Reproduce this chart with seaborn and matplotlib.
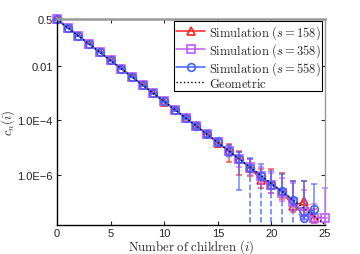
import numpy as np
import matplotlib
matplotlib.use("Agg")
import matplotlib.pyplot as plt
import seaborn as sns

# number of children i = 0..25
children = list(range(26))

geometric = [5.0e-1, 2.5e-1, 1.25e-1, 6.25e-2, 3.13e-2, 1.56e-2, 7.81e-3, 3.91e-3,
             1.95e-3, 9.77e-4, 4.88e-4, 2.44e-4, 1.22e-4, 6.10e-5, 3.05e-5, 1.53e-5,
             7.63e-6, 3.81e-6, 1.91e-6, 9.54e-7, 4.77e-7, 2.38e-7, 1.19e-7, 5.96e-8,
             2.98e-8, 1.49e-8]

# simulation estimates (s = 158, 358, 558)
sim_158 = [5.0e-1, 2.5e-1, 1.25e-1, 6.24e-2, 3.13e-2, 1.56e-2, 7.80e-3, 3.90e-3,
           1.95e-3, 9.75e-4, 4.87e-4, 2.44e-4, 1.22e-4, 6.08e-5, 3.06e-5, 1.52e-5,
           7.5e-6, 3.8e-6, 1.85e-6, 6.6e-7, 4.4e-7, 2.5e-7, 6.9e-8, 1.05e-7, 2.7e-8]
sim_358 = [5.0e-1, 2.5e-1, 1.25e-1, 6.25e-2, 3.12e-2, 1.56e-2, 7.82e-3, 3.91e-3,
           1.95e-3, 9.78e-4, 4.89e-4, 2.44e-4, 1.22e-4, 6.11e-5, 3.04e-5, 1.53e-5,
           7.6e-6, 3.9e-6, 1.9e-6, 8.8e-7, 4.3e-7, 2.2e-7, 1.0e-7, 4.5e-8, 2.7e-8, 2.7e-8]
sim_558 = [5.0e-1, 2.5e-1, 1.25e-1, 6.25e-2, 3.13e-2, 1.56e-2, 7.81e-3, 3.91e-3,
           1.95e-3, 9.76e-4, 4.88e-4, 2.44e-4, 1.22e-4, 6.10e-5, 3.05e-5, 1.53e-5,
           7.6e-6, 3.8e-6, 1.82e-6, 8.9e-7, 4.4e-7, 2.6e-7, 1.15e-7, 2.7e-8, 5.6e-8]

# error bars, in decades above / below the estimate (nan = reaches zero)
nan = np.nan
hi_158 = [.01, .01, .01, .01, .01, .01, .01, .02, .02, .02, .03, .04, .05, .07,
          .09, .12, .25, .30, .33, .40, .58, .65, .95, .76, .30]
lo_158 = [.01, .01, .01, .01, .01, .01, .01, .02, .02, .03, .04, .05, .06, .09,
          .12, .17, .39, .60, .30, .30, .30, .30, .20, .30, .20]
hi_358 = [.01, .01, .01, .01, .01, .01, .01, .02, .02, .02, .03, .04, .05, .06,
          .08, .10, .18, .26, .30, .35, .45, .55, .70, .80, .50, 1.07]
lo_358 = [.01, .01, .01, .01, .01, .01, .01, .02, .02, .02, .03, .04, .05, .06,
          .09, .12, .20, .30, .30, .30, .30, .30, .30, .30, .20, nan]
hi_558 = [.01, .01, .01, .01, .01, .01, .01, .01, .02, .02, .03, .03, .04, .06,
          .08, .15, .20, .26, .35, .43, .50, .60, .72, 1.35, .92]
lo_558 = [.01, .01, .01, .01, .01, .01, .01, .01, .02, .02, .03, .03, .05, .07,
          .10, .10, .20, 1.15, nan, nan, nan, nan, nan, .05, .20]

sns.set_style("ticks")
plt.rcParams["font.family"] = ["Liberation Sans", "DejaVu Sans"]
plt.rcParams["mathtext.fontset"] = "cm"

fig = plt.figure(figsize=(3.6, 2.55), dpi=100)
ax = fig.add_axes([0.158, 0.114, 0.745, 0.806])
ax.set_yscale("log")

series = [
    (r"$\mathrm{Simulation}\ (s=158)$", sim_158, hi_158, lo_158, "#ff2020", "^", "-"),
    (r"$\mathrm{Simulation}\ (s=358)$", sim_358, hi_358, lo_358, "#c257ff", "s", "-"),
    (r"$\mathrm{Simulation}\ (s=558)$", sim_558, hi_558, lo_558, "#3f63ff", "o", "--"),
]

for label, vals, hi, lo, color, mk, open_ls in series:
    x = np.array(children[:len(vals)])
    v = np.array(vals)
    hi = np.array(hi)
    lo = np.array(lo)
    upper = v * 10 ** hi - v
    lower = np.where(np.isnan(lo), 0, v - v * 10 ** (-np.nan_to_num(lo)))
    ax.errorbar(x, v, yerr=[lower, upper], fmt="none", ecolor=color, elinewidth=1.1,
                capsize=2.5, capthick=1.1, alpha=0.75, clip_on=False)
    # lower bound at zero -> line down to the axis
    opn = np.isnan(lo)
    if opn.any():
        ax.vlines(x[opn], 1e-12, v[opn], colors=color, linestyles=open_ls, lw=1.1, alpha=0.85)
    sns.lineplot(x=x, y=v, ax=ax, color=color, marker=mk, markersize=5.5, mfc="none",
                 mec=color, mew=1.2, lw=1.1, label=label, errorbar=None, clip_on=False)

sns.lineplot(x=children, y=geometric, ax=ax, color="black", ls=":", lw=1.0,
             label=r"$\mathrm{Geometric}$", errorbar=None)

ax.set_xlim(0, 25)
ax.set_ylim(1.45e-8, 0.5)
ax.set_xticks([0, 5, 10, 15, 20, 25])
ax.set_yticks([0.5, 0.01, 1e-4, 1e-6])
ax.set_yticklabels(["0.5", "0.01", "1.0E\u22124", "1.0E\u22126"])
ax.minorticks_off()
ax.tick_params(direction="in", length=3, width=0.8, labelsize=8, top=True, right=True,
               pad=3)
ax.tick_params(axis="x", pad=2)
for t in ax.xaxis.get_major_ticks() + ax.yaxis.get_major_ticks():
    t.tick2line.set_color("#999999")

ax.set_xlabel(r"$\mathrm{Number\ of\ children}\ (i)$", fontsize=9.2, labelpad=-0.3)
ax.set_ylabel(r"$c_n(i)$", fontsize=9, labelpad=0)

for side in ["left", "bottom"]:
    ax.spines[side].set_color("black")
    ax.spines[side].set_linewidth(1.0)
ax.spines["top"].set_color("#999999")
ax.spines["top"].set_linewidth(1.8)
ax.spines["right"].set_color("#999999")
ax.spines["right"].set_linewidth(1.0)

leg = ax.legend(loc="upper right", bbox_to_anchor=(0.99, 0.99), borderaxespad=0,
                fontsize=9, frameon=True, fancybox=False, framealpha=1,
                edgecolor="black", handlelength=2.3, handletextpad=0.3,
                labelspacing=0.0, borderpad=0.15)
leg.get_frame().set_linewidth(0.8)

fig.savefig("out.png", dpi=100)
